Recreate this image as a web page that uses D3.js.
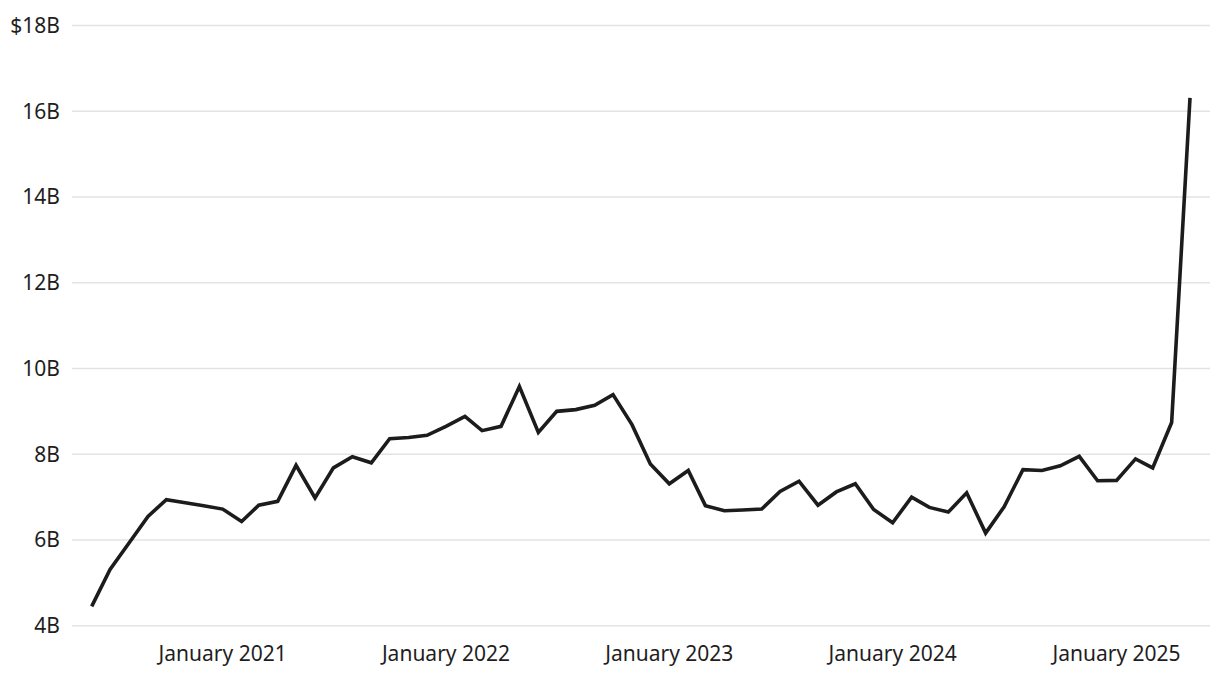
<!DOCTYPE html>
<html lang="en">
<head>
<meta charset="UTF-8" />
<title>Monthly value</title>
<script src="https://d3js.org/d3.v7.js"></script>
<style>
  body { margin: 0; background: #fff; }
  text { font-family: "Noto Sans", sans-serif; fill: #1e1e1e; }
</style>
</head>
<body>
<script>
    var w = 1220;
    var h = 678;

    // monthly values, June 2020 .. May 2025, in billions
    var startMonth = "2020-06";
    var values = [
        4.45, 5.31, 5.93, 6.55, 6.94, 6.87, 6.80, 6.72, 6.43, 6.81,
        6.90, 7.74, 6.98, 7.68, 7.94, 7.80, 8.36, 8.39, 8.44, 8.65,
        8.88, 8.55, 8.65, 9.58, 8.51, 9.00, 9.04, 9.14, 9.39, 8.69,
        7.77, 7.31, 7.62, 6.80, 6.68, 6.70, 6.72, 7.13, 7.37, 6.81,
        7.12, 7.31, 6.71, 6.40, 7.00, 6.76, 6.65, 7.10, 6.16, 6.77,
        7.64, 7.62, 7.73, 7.95, 7.38, 7.39, 7.89, 7.68, 8.74, 16.31
    ];
    var yTicks = [4, 6, 8, 10, 12, 14, 16, 18];
    var xTickYears = [2021, 2022, 2023, 2024, 2025];

    var parseMonth = d3.timeParse("%Y-%m");
    var start = parseMonth(startMonth);
    var data = values.map(function(v, i) {
        return { date: d3.timeMonth.offset(start, i), value: v };
    });

    var svg = d3.select("body")
                .append("svg")
                .attr("width", w)
                .attr("height", h);

    var xScale = d3.scaleTime()
        .domain([data[0].date, data[data.length - 1].date])
        .range([91.7, 1190]);

    var yScale = d3.scaleLinear()
        .domain([4, 18])
        .range([625.7, 25.5]);

    // gridlines
    svg.selectAll(".grid")
        .data(yTicks)
        .enter()
        .append("line")
        .attr("x1", 72)
        .attr("x2", 1210)
        .attr("y1", function(d){ return yScale(d); })
        .attr("y2", function(d){ return yScale(d); })
        .attr("stroke", "#e3e3e3")
        .attr("stroke-width", 1.5);

    // y labels
    svg.selectAll(".ylab")
        .data(yTicks)
        .enter()
        .append("text")
        .attr("x", 60)
        .attr("y", function(d){ return yScale(d); })
        .attr("dy", "0.35em")
        .attr("text-anchor", "end")
        .style("font-size", "21px")
        .text(function(d, i){
            return (i === yTicks.length - 1 ? "$" : "") + d + "B";
        });

    // x labels
    svg.selectAll(".xlab")
        .data(xTickYears)
        .enter()
        .append("text")
        .attr("x", function(d){ return xScale(new Date(d, 0, 1)); })
        .attr("y", 654)
        .attr("dy", "0.35em")
        .attr("text-anchor", "middle")
        .style("font-size", "21px")
        .text(function(d){ return "January " + d; });

    var line = d3.line()
        .x(function(d){ return xScale(d.date); })
        .y(function(d){ return yScale(d.value); });

    svg.append("path")
        .datum(data)
        .attr("d", line)
        .attr("fill", "none")
        .attr("stroke", "#1c1c1c")
        .attr("stroke-width", 3.6)
        .attr("stroke-linejoin", "miter")
        .attr("stroke-linecap", "butt");
</script>
</body>
</html>
